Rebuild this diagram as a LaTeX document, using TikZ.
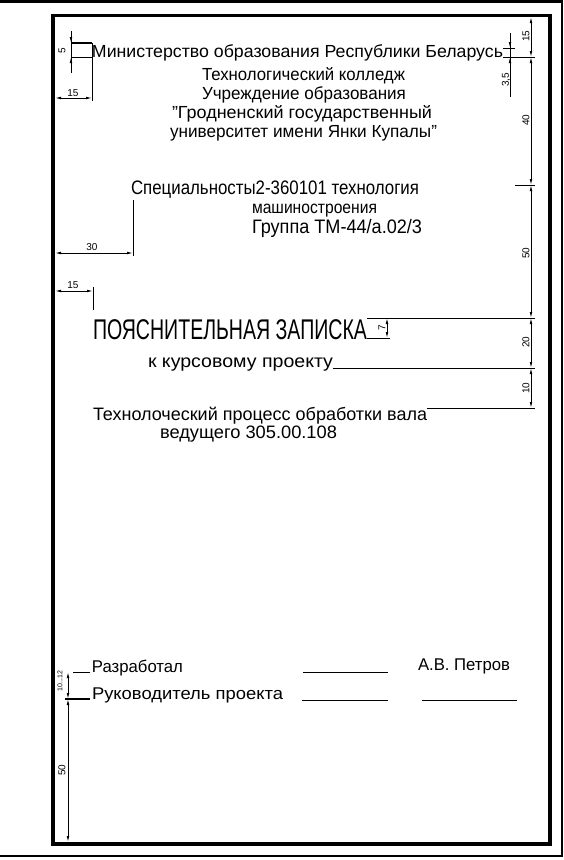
\documentclass[tikz,border=0pt]{standalone}
\usepackage{fontspec}
\setmainfont{Liberation Sans}
\usepackage{graphicx}
\usetikzlibrary{arrows.meta}
\newcommand{\wtext}[2]{\resizebox{#1}{\height}{#2}}
\tikzset{
  sheettext/.style={anchor=base west, inner sep=0pt, outer sep=0pt},
  dimlabel/.style={inner sep=0pt, font=\fontsize{10}{10}\selectfont},
}
\begin{document}
\begin{tikzpicture}[x=1pt, y=-1pt, line width=0.8pt, >={Latex[length=6pt,width=2.6pt]}]
		\useasboundingbox (0,0) rectangle (564,860);
		% Frames, dimensions and texts:
		\draw[line width=2.5pt] (0,1.3) -- (562,1.3) -- (562,856) -- (0,856);
		\draw[line width=3.5pt] (52.8,15.3) rectangle (550,844);
		\draw[<->] (531,17) -- (531,57);
		\draw[<->] (531,57) -- (531,185);
		\draw[<->] (531,185) -- (531,318);
		\draw[<->] (531,318) -- (531,368);
		\draw[<->] (531,368) -- (531,408);
		\draw (503,57) -- (535,57);
		\draw (515,185) -- (535,185);
		\draw (367,318) -- (535,318);
		\draw (333,368) -- (535,368);
		\draw (427,408) -- (535,408);
		\draw (510,33) -- (510,97);
		\draw[->] (510,33) -- (510,48);
		\draw[->] (510,72) -- (510,57);
		\draw (503,48) -- (515,48);
		\draw (71,31) -- (71,73);
		\draw[->] (71,31) -- (71,43);
		\draw[->] (71,73) -- (71,57);
		\draw[line width=1.3pt] (72,43) -- (92,43);
		\draw (72,57) -- (92,57);
		\draw[<->] (55,98) -- (92,98);
		\draw (92,43) -- (92,101);
		\draw[<->] (55,253) -- (133,253);
		\draw (133,200) -- (133,256);
		\draw[<->] (55,291) -- (93,291);
		\draw (93,287) -- (93,310);
		\draw (367,338) -- (390,338);
		\draw[<->] (387,318) -- (387,338);
		\draw (73,672) -- (90,672);
		\draw[line width=1.3pt] (65,699) -- (90,699);
		\draw[<->] (68,672) -- (68,699);
		\draw[<->] (68,699) -- (68,842);
		\draw (303,672) -- (388,672);
		\draw (302,700) -- (388,700);
		\draw (422,700) -- (517,700);
		\node[dimlabel, rotate=90] (L1) at (62,51) {5};
		\node[dimlabel] (L2) at (73,93) {15};
		\node[dimlabel] (L3) at (92,247) {30};
		\node[dimlabel] (L4) at (73,285) {15};
		\node[dimlabel, rotate=90] (L5) at (526,36) {15};
		\node[dimlabel, rotate=90] (L6) at (506,80) {3,5};
		\node[dimlabel, rotate=90] (L7) at (526,120) {40};
		\node[dimlabel, rotate=90] (L8) at (526,253) {50};
		\node[dimlabel, rotate=90] (L9) at (526,342) {20};
		\node[dimlabel, rotate=90] (L10) at (526,388) {10};
		\node[dimlabel, rotate=90] (L11) at (382,328) {7};
		\node[dimlabel, rotate=90, font=\fontsize{7}{7}\selectfont] (L12) at (60,681) {10...12};
		\node[dimlabel, rotate=90] (L13) at (62,770) {50};
		\node[sheettext, font=\fontsize{17.5}{18}\selectfont] (N1) at (92,57) {\wtext{411pt}{Министерство образования Республики Беларусь}};
		\node[sheettext, font=\fontsize{17.5}{18}\selectfont] (N2) at (202,80) {\wtext{203pt}{Технологический колледж}};
		\node[sheettext, font=\fontsize{17.5}{18}\selectfont] (N3) at (202,99) {\wtext{204pt}{Учреждение образования}};
		\node[sheettext, font=\fontsize{17.5}{18}\selectfont] (N4) at (172,118) {\wtext{260pt}{"Гродненский государственный}};
		\node[sheettext, font=\fontsize{17.5}{18}\selectfont] (N5) at (170,137) {\wtext{267pt}{университет имени Янки Купалы"}};
		\node[sheettext, font=\fontsize{19.5}{20}\selectfont] (N6) at (131,194) {\wtext{288pt}{Специальносты2-360101 технология}};
		\node[sheettext, font=\fontsize{17.5}{18}\selectfont] (N7) at (252,213) {\wtext{125pt}{машиностроения}};
		\node[sheettext, font=\fontsize{19.5}{20}\selectfont] (N8) at (252,233) {\wtext{170pt}{Группа ТМ-44/а.02/3}};
		\node[sheettext, font=\fontsize{28.5}{29}\selectfont] (N9) at (93,339) {\wtext{274pt}{ПОЯСНИТЕЛЬНАЯ ЗАПИСКА}};
		\node[sheettext, font=\fontsize{18}{18}\selectfont] (N10) at (148,367) {\wtext{185pt}{к курсовому проекту}};
		\node[sheettext, font=\fontsize{18}{18}\selectfont] (N11) at (93,420) {\wtext{334pt}{Технолоческий процесс обработки вала}};
		\node[sheettext, font=\fontsize{18}{18}\selectfont] (N12) at (160,438) {\wtext{177pt}{ведущего 305.00.108}};
		\node[sheettext, font=\fontsize{17}{17}\selectfont] (N13) at (92,672) {\wtext{91pt}{Разработал}};
		\node[sheettext, font=\fontsize{17}{17}\selectfont] (N14) at (92,699) {\wtext{191pt}{Руководитель проекта}};
		\node[sheettext, font=\fontsize{17}{17}\selectfont] (N15) at (418,670) {\wtext{92pt}{А.В. Петров}};
	\end{tikzpicture}
\end{document}
